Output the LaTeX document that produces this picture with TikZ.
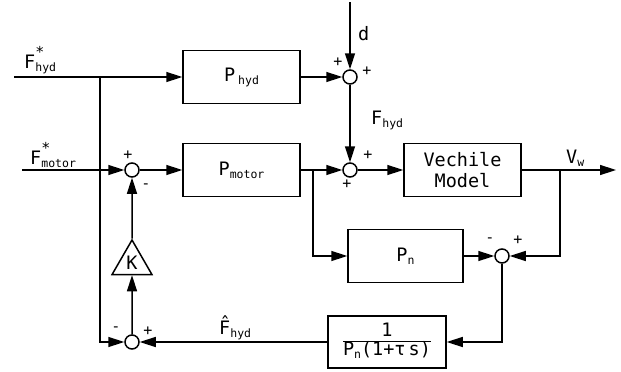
\documentclass[tikz,border=0pt]{standalone}
\usepackage{fontspec}
\setmainfont{DejaVu Sans Mono}
\usetikzlibrary{arrows.meta,shapes.geometric}

\newcommand{\lsub}[2]{#1\raisebox{-3pt}{\fontsize{11.5}{12}\selectfont #2}}
\newcommand{\lref}[2]{#1\rlap{\raisebox{11pt}{\fontsize{15}{15}\selectfont *}}\raisebox{-3pt}{\fontsize{11.5}{12}\selectfont #2}}

\begin{document}
\begin{tikzpicture}[x=1pt, y=-1pt,
          every node/.style={font=\fontsize{18.5}{21}\selectfont},
          block/.style={draw, line width=1.5pt, minimum width=117pt, minimum height=53pt, inner sep=0pt, align=center},
          sum/.style={draw, circle, line width=1.5pt, fill=white, minimum size=14pt, inner sep=0pt},
          gainbox/.style={draw, regular polygon, regular polygon sides=3, minimum size=46pt, inner sep=0pt, line width=1.5pt},
          arr/.style={-{Triangle[length=16pt,width=10pt]}, line width=1.5pt},
          sgn/.style={font=\fontsize{15}{15}\selectfont, inner sep=0pt},
          lab/.style={inner sep=0pt, anchor=base west},
        ]
          \useasboundingbox (0,0) rectangle (621,372);

          %% blocks
          \node[block] (phyd)   at (241.5, 77) {\lsub{P\hspace{3pt}}{hyd}};
          \node[block] (pmotor) at (241.5,170) {\lsub{P}{motor}};
          \node[block] (veh)    at (462.5,170) {Vechile\\Model};
          \node[block, minimum width=115pt] (pn) at (405.5,256) {\lsub{P}{n}};
          \node[block, minimum width=118pt, minimum height=52pt] (filt) at (387,342)
               {\begin{tabular}{@{}c@{}}1\\[-2pt]\hline\lsub{P}{n}(1+τ\,s)\end{tabular}};
          \node[gainbox] (gain) at (132,263) {K};

          %% summing points
          \node[sum] (s1) at (132,170) {};
          \node[sum] (s2) at (350, 77) {};
          \node[sum] (s3) at (350,170) {};
          \node[sum] (s4) at (502,256) {};
          \node[sum] (s5) at (132,342) {};

          %% free ends and branch points
          \coordinate (hydin) at ( 14, 77);
          \coordinate (motin) at ( 22,170);
          \coordinate (din)   at (350,  2);
          \coordinate (vout)  at (616,170);
          \coordinate (br1)   at (100, 77);
          \coordinate (br2)   at (313,170);
          \coordinate (br3)   at (560,170);

          %% inputs
          \draw[arr] (hydin) -- (phyd.west);
          \draw[arr] (motin) -- (s1.west);
          \draw[arr] (din)   -- (s2.north);
          \draw[arr] (br1) |- (s5.west);

          %% forward path
          \draw[arr] (s1) -- (pmotor.west);
          \draw[arr] (phyd) -- (s2);
          \draw[arr] (s2) -- (s3);
          \draw[arr] (pmotor) -- (s3);
          \draw[arr] (s3) -- (veh);
          \draw[arr] (veh) -- (vout);

          %% observer
          \draw[arr] (br2) |- (pn.west);
          \draw[arr] (br3) |- (s4.east);
          \draw[arr] (pn) -- (s4);
          \draw[arr] (s4) |- (filt.east);
          \draw[arr] (filt) -- (s5);
          \draw[arr] (s5) -- (gain.south);
          \draw[arr] (gain.north) -- (s1);

          %% signal labels
          \node[lab] (lhyd)  at ( 24, 68) {\lref{F}{hyd}};
          \node[lab] (lmot)  at ( 30,164) {\lref{F}{motor}};
          \node[lab] (ld)    at (358, 40) {d};
          \node[lab] (lfhyd) at (371,124) {\lsub{F}{hyd}};
          \node[lab] (lvw)   at (566,163) {\lsub{V}{w}};
          \node[lab] (lest)  at (219,334) {\lsub{\^{F}}{hyd}};

          %% signs
          \node[sgn] (p1a) at (128,155) {+};
          \node[sgn] (m1b) at (146,186) {-};
          \node[sgn] (p2a) at (338, 62) {+};
          \node[sgn] (p2b) at (367, 71) {+};
          \node[sgn] (p3a) at (368,155) {+};
          \node[sgn] (p3b) at (347,184) {+};
          \node[sgn] (m4a) at (490,240) {-};
          \node[sgn] (p4b) at (518,240) {+};
          \node[sgn] (m5a) at (116,329) {-};
          \node[sgn] (p5b) at (148,331) {+};
        \end{tikzpicture}
\end{document}
